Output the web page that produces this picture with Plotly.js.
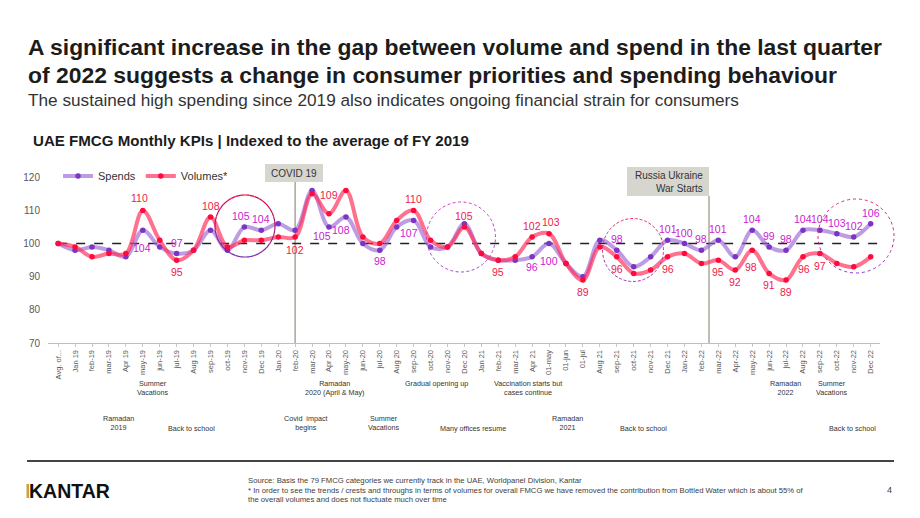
<!DOCTYPE html>
<html>
<head>
<meta charset="utf-8">
<script src="https://cdn.plot.ly/plotly-3.0.1.min.js"></script>
<style>
  html, body { margin: 0; padding: 0; background: #ffffff; }
  #chart { width: 920px; height: 518px; }
</style>
</head>
<body>
<div id="chart"></div>
<script>
// Monthly KPI categories (average of FY2019 followed by Jan 2019 .. Dec 2022)
const categories = [
  "Avg. of...", "Jan 19", "feb-19", "mar-19", "Apr 19", "may-19", "jun-19", "jul-19",
  "Aug 19", "sep-19", "oct-19", "nov-19", "Dec 19", "Jan 20", "feb-20", "mar-20",
  "Apr 20", "may-20", "jun-20", "jul-20", "Aug 20", "sep-20", "oct-20", "nov-20",
  "Dec 20", "Jan 21", "feb-21", "mar-21", "Apr 21", "01-may", "01-jun", "01-jul",
  "Aug 21", "sep-21", "oct-21", "nov-21", "Dec 21", "Jan-22", "feb-22", "mar-22",
  "Apr-22", "may-22", "jun-22", "jul-22", "Aug 22", "sep-22", "oct-22", "nov-22", "Dec 22"
];

// Indexed values (FY2019 average = 100)
const spends = [
  100, 98, 99, 98, 96, 104, 99, 97, 98, 104, 98, 105, 104, 106, 104, 116,
  105, 108, 100, 98, 105, 107, 99, 99, 106, 97, 95, 95, 96, 100, 94, 90,
  101, 98, 93, 96, 101, 100, 98, 101, 96, 104, 99, 98, 104, 104, 103, 102, 106
];
const volumes = [
  100, 99, 96, 97, 97, 110, 101, 95, 98, 108, 99, 101, 101, 102, 102, 115,
  109, 116, 102, 100, 107, 110, 101, 99, 105, 97, 95, 96, 102, 103, 94, 89,
  99, 96, 91, 92, 96, 97, 94, 95, 92, 98, 91, 89, 96, 97, 94, 93, 96
];

// Which points carry a value label
const spendLabelIdx = [5, 7, 11, 12, 16, 17, 19, 21, 28, 29, 33, 36, 37, 38, 39, 41, 42, 43, 44, 45, 46, 47, 48];
const volumeLabelIdx = [5, 7, 9, 14, 16, 21, 24, 26, 28, 29, 31, 33, 36, 39, 40, 41, 42, 43, 44, 45];

// Event notes under the axis
const eventTexts = [
  "Summer<br>Vacations", "Ramadan<br>2020 (April & May)", "Gradual opening up",
  "Vaccination starts but<br>cases continue", "Ramadan<br>2022", "Summer<br>Vacations",
  "Ramadan<br>2019", "Back to school", "Covid  impact<br>begins", "Summer<br>Vacations",
  "Many offices resume", "Ramadan<br>2021", "Back to school", "Back to school"
];

// ---- page geometry (pixels) ----
const W = 920, Hh = 518;
const M = { l: 48, r: 40, t: 167, b: 175 };
const PW = W - M.l - M.r, PH = Hh - M.t - M.b;
const X = px => (px - M.l) / PW;          // pixel x -> paper
const Y = py => (Hh - M.b - py) / PH;     // pixel y -> paper

const FONT = "Liberation Sans, Arial, Helvetica, sans-serif";
const PURPLE_LINE = "rgba(150, 95, 210, 0.62)";
const PURPLE_MARK = "#7a35c4";
const RED_LINE = "rgba(255, 45, 90, 0.68)";
const RED_MARK = "#ff0a3c";
const SPEND_TXT = "#cc1bd0";
const VOL_TXT = "#f0204a";

const traces = [
  {
    name: "Spends", type: "scatter", mode: "lines+markers",
    x: categories, y: spends,
    line: { color: PURPLE_LINE, width: 4, shape: "spline", smoothing: 1 },
    marker: { color: PURPLE_MARK, size: 5.5 },
    hoverinfo: "skip"
  },
  {
    name: "Volumes*", type: "scatter", mode: "lines+markers",
    x: categories, y: volumes,
    line: { color: RED_LINE, width: 4, shape: "spline", smoothing: 1 },
    marker: { color: RED_MARK, size: 5.5 },
    hoverinfo: "skip"
  }
];

// label offsets in pixels (dx, dy); default above
const spendOffsets = { 5: [-1, 18], 11: [-3, -11], 16: [-7, 9], 17: [-5, 13], 19: [0, 11], 21: [-5, 13], 28: [0, 10], 29: [0, 17] };
const volumeOffsets = { 5: [-3, -12], 7: [0, 12], 14: [0, 13], 16: [0, -19], 26: [0, 12], 29: [2, -12], 31: [0, 12],
  33: [0, 12], 36: [0, 12], 39: [0, 12], 40: [0, 12], 41: [-1, 17], 42: [0, 12], 43: [0, 12], 44: [1, 12], 45: [0, 12] };

const annotations = [];
function valueLabel(idx, series, offsets, color) {
  const off = offsets[idx] || [0, -11];
  annotations.push({
    x: categories[idx], y: series[idx], xref: "x", yref: "y",
    text: String(series[idx]), showarrow: false,
    xshift: off[0], yshift: -off[1],
    font: { family: FONT, size: 10.5, color: color },
    xanchor: "center", yanchor: "middle"
  });
}
spendLabelIdx.forEach(i => valueLabel(i, spends, spendOffsets, SPEND_TXT));
volumeLabelIdx.forEach(i => valueLabel(i, volumes, volumeOffsets, VOL_TXT));

function note(text, px, py, opts) {
  annotations.push(Object.assign({
    text: text, x: X(px), y: Y(py), xref: "paper", yref: "paper",
    showarrow: false, xanchor: "left", yanchor: "middle",
    font: { family: FONT, size: 7.2, color: "#333333" }
  }, opts || {}));
}

// headings
note("<b>A significant increase in the gap between volume and spend in the last quarter</b>", 26, 47,
  { font: { family: FONT, size: 22.9, color: "#1c1c1c" } });
note("<b>of 2022 suggests a change in consumer priorities and spending behaviour</b>", 26, 75,
  { font: { family: FONT, size: 22.9, color: "#1c1c1c" } });
note("The sustained high spending since 2019 also indicates ongoing financial strain for consumers", 26, 100,
  { font: { family: FONT, size: 17.2, color: "#333333" } });
note("<b>UAE FMCG Monthly KPIs | Indexed to the average of FY 2019</b>", 31, 140,
  { font: { family: FONT, size: 15.1, color: "#1c1c1c" } });

// event boxes
note("COVID 19", 294, 173, { xanchor: "center", font: { family: FONT, size: 10, color: "#333333" } });
note("Russia Ukraine<br>War Starts", 705, 181.5, { xanchor: "right", align: "right",
  font: { family: FONT, size: 10, color: "#333333" } });

// events under the axis
const eventPos = [
  [152, 388], [335, 388], [436, 383], [528, 388], [785, 388], [831, 388],
  [118, 423], [191, 428], [306, 423], [383, 423], [473, 428], [567, 423], [643, 428], [852, 428]
];
eventTexts.forEach((t, i) => note(t, eventPos[i][0], eventPos[i][1],
  { xanchor: "center", align: "center", font: { family: FONT, size: 7.2, color: "#333333" } }));

// footer
note("<b>KANTAR</b>", 27, 491, { font: { family: FONT, size: 19.5, color: "#111111" } });
note("Source: Basis the 79 FMCG categories we currently track in the UAE, Worldpanel Division, Kantar", 246, 480,
  { font: { family: FONT, size: 7.7, color: "#404040" } });
note("* In order to see the trends / crests and throughs in terms of volumes for overall FMCG we have removed the contribution from Bottled Water which is about 55% of", 246, 490,
  { font: { family: FONT, size: 7.7, color: "#404040" } });
note("the overall volumes and does not fluctuate much over time", 246, 499.5,
  { font: { family: FONT, size: 7.7, color: "#404040" } });
note("4", 889, 490, { xanchor: "center", font: { family: FONT, size: 9, color: "#404040" } });

const shapes = [
  // reference line at the 2019 average
  { type: "line", xref: "x", yref: "y", x0: 0, x1: 48.6, y0: 100, y1: 100,
    line: { color: "#222222", width: 1.5, dash: "dash" }, layer: "below" },
  // event markers
  { type: "line", xref: "x", yref: "paper", x0: 14, x1: 14, y0: 0, y1: Y(182),
    line: { color: "#a8a89c", width: 1.5 }, layer: "below" },
  { type: "line", xref: "x", yref: "paper", x0: 38.45, x1: 38.45, y0: 0, y1: Y(196),
    line: { color: "#a8a89c", width: 1.5 }, layer: "below" },
  { type: "rect", xref: "paper", yref: "paper", x0: X(265), x1: X(323), y0: Y(182), y1: Y(164),
    fillcolor: "#d6d6cf", line: { width: 0 } },
  { type: "rect", xref: "paper", yref: "paper", x0: X(627), x1: X(709), y0: Y(196), y1: Y(167),
    fillcolor: "#d6d6cf", line: { width: 0 } },
  // footer rule and logo accent
  { type: "line", xref: "paper", yref: "paper", x0: X(27), x1: X(894), y0: Y(461), y1: Y(461),
    line: { color: "#444444", width: 2 } },
  { type: "rect", xref: "paper", yref: "paper", x0: X(26.5), x1: X(29), y0: Y(498), y1: Y(484),
    fillcolor: "#c9a43a", line: { width: 0 } }
];

// highlight rings, colour fading from red at the top to purple at the bottom
function mix(a, b, t) {
  const r = Math.round(a[0] + (b[0] - a[0]) * t);
  const g = Math.round(a[1] + (b[1] - a[1]) * t);
  const bl = Math.round(a[2] + (b[2] - a[2]) * t);
  return `rgb(${r},${g},${bl})`;
}
function ring(cx, cy, rx, ry, dash, width, top, bottom) {
  const n = 40;
  for (let k = 0; k < n; k++) {
    const a0 = (k / n) * 2 * Math.PI, a1 = ((k + 1) / n) * 2 * Math.PI;
    let d = "";
    for (let s = 0; s <= 4; s++) {
      const a = a0 + (a1 - a0) * s / 4;
      const px = cx + rx * Math.cos(a), py = cy - ry * Math.sin(a);
      d += (s === 0 ? "M" : "L") + X(px).toFixed(5) + "," + Y(py).toFixed(5);
    }
    const mid = (a0 + a1) / 2;
    const t = (1 - Math.sin(mid)) / 2;
    shapes.push({ type: "path", xref: "paper", yref: "paper", path: d,
      line: { color: mix(top, bottom, t), width: width, dash: dash } });
  }
}
ring(245, 226, 30, 31, "solid", 1.2, [232, 0, 60], [112, 40, 170]);
ring(461, 237, 34.5, 35, "dot", 1, [210, 60, 190], [150, 70, 210]);
ring(633, 250, 30.5, 31.5, "dot", 1, [240, 40, 90], [140, 50, 200]);
ring(856, 236, 38, 37, "dot", 1, [240, 40, 90], [140, 50, 200]);

const layout = {
  width: W, height: Hh,
  margin: M,
  paper_bgcolor: "#ffffff", plot_bgcolor: "#ffffff",
  font: { family: FONT, color: "#595959" },
  showlegend: true,
  legend: {
    orientation: "h", x: X(58), y: Y(176), xanchor: "left", yanchor: "middle",
    font: { family: FONT, size: 11, color: "#333333" }, bgcolor: "rgba(0,0,0,0)",
    itemwidth: 30, traceorder: "normal"
  },
  xaxis: {
    type: "category", range: [-0.6, 48.55], fixedrange: true,
    showgrid: false, zeroline: false,
    showline: true, linecolor: "#bfbfbf", linewidth: 1,
    ticks: "outside", ticklen: 3, tickcolor: "#c8c8c8",
    tickangle: -90, tickfont: { family: FONT, size: 7.5, color: "#595959" }
  },
  yaxis: {
    range: [70, 70 + PH / 3.314], fixedrange: true,
    tickvals: [70, 80, 90, 100, 110, 120],
    showgrid: false, zeroline: false, showline: false, ticks: "",
    ticklabelstandoff: 7,
    tickfont: { family: FONT, size: 10, color: "#595959" }
  },
  shapes: shapes,
  annotations: annotations
};

Plotly.newPlot("chart", traces, layout, { displayModeBar: false, staticPlot: true });
</script>
</body>
</html>
